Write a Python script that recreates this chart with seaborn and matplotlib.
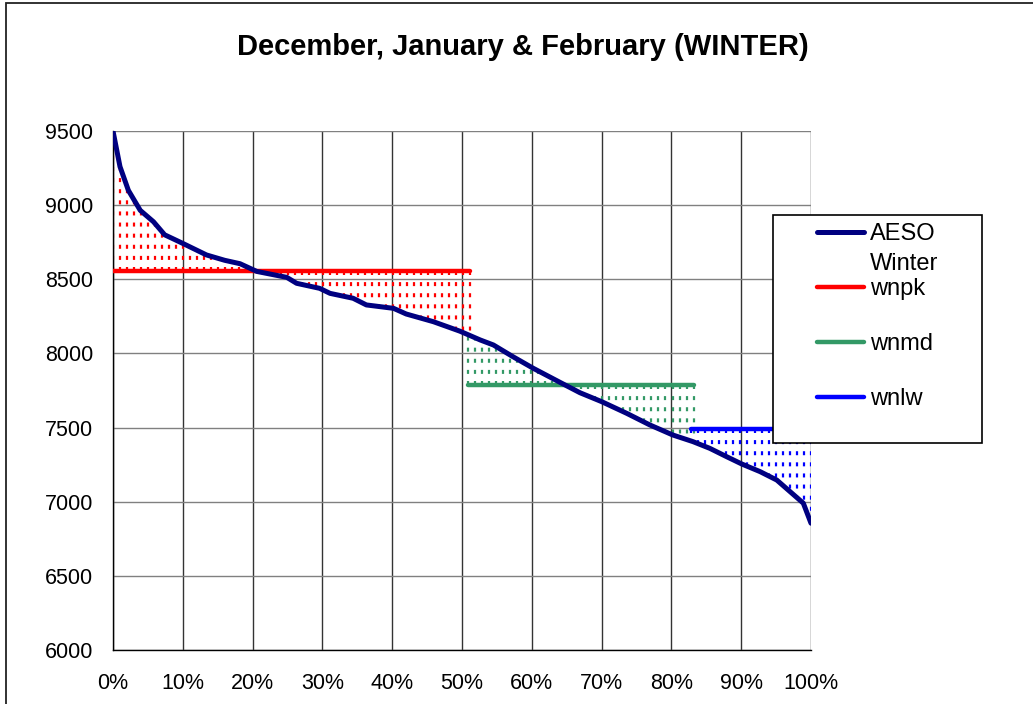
import numpy as np
import pandas as pd
import matplotlib
matplotlib.use('Agg')
import matplotlib.pyplot as plt
import seaborn as sns
from matplotlib.patches import Rectangle

# AESO 冬季負載曲線（依百分比排序）
pct = [0, 1, 2.2, 3.9, 5.8, 7.4, 10, 13.4, 16, 18.2, 20.6, 24.9, 26.3, 29.6, 31.1,
       34.4, 36.3, 40.2, 42, 45.9, 49.7, 52.6, 54.5, 57.3, 60.2, 64, 66.9, 70,
       73.6, 76.9, 80.2, 83.1, 85.5, 87.9, 90.1, 92.7, 95.1, 97, 98.9, 100]
aeso = [9500, 9260, 9100, 8965, 8888, 8800, 8742, 8664, 8628, 8605, 8553, 8513,
        8473, 8439, 8405, 8372, 8327, 8304, 8266, 8214, 8150, 8091, 8057, 7978,
        7900, 7806, 7735, 7675, 7596, 7518, 7450, 7405, 7360, 7304, 7254, 7203,
        7146, 7068, 6990, 6855]

# 三個時段的階梯值
step_names = ['wnpk', 'wnmd', 'wnlw']
step_start = [0, 50.8, 82.8]
step_end = [51.2, 83.2, 100]
step_level = [8555, 7787, 7490]
step_colors = ['#ff0000', '#339966', '#0000ff']

sns.set_style('white')
plt.rcParams['font.family'] = ['Liberation Sans', 'DejaVu Sans']
plt.rcParams['text.color'] = 'black'

W, H = 1033, 704
fig = plt.figure(figsize=(W / 100, H / 100), dpi=100)
ax = fig.add_axes([113 / W, 1 - 650 / H, (811 - 113) / W, (650 - 131) / H])

df = pd.DataFrame({'pct': pct, 'mw': aeso})

# 點狀陰影：階梯值與曲線之間
for s0, s1, lvl, c in zip(step_start, step_end, step_level, step_colors):
    xs = np.linspace(s0, s1, int(round(s1 - s0)) + 1)
    ys = np.interp(xs, pct, aeso)
    ax.vlines(xs, lvl, ys, colors=c, linewidth=1.6,
              linestyles=[(0, (1.8, 3.2))], zorder=2)

sns.lineplot(data=df, x='pct', y='mw', color='#000080', linewidth=3.6,
             ax=ax, label='AESO', zorder=4)
for s0, s1, lvl, c, name in zip(step_start, step_end, step_level, step_colors, step_names):
    sns.lineplot(x=[s0, s1], y=[lvl, lvl], color=c, linewidth=3.2, ax=ax,
                 label=name, zorder=3, solid_capstyle='round')

handles, labels = ax.get_legend_handles_labels()
ax.get_legend().remove()

ax.set_xlim(0, 100)
ax.set_ylim(6000, 9500)
ax.set_xticks(range(0, 101, 10))
ax.set_xticklabels([f'{v}%' for v in range(0, 101, 10)])
ax.set_yticks(range(6000, 9501, 500))
ax.set_xlabel('')
ax.set_ylabel('')
ax.grid(True, axis='x', color='#333333', linewidth=1)
ax.grid(True, axis='y', color='#808080', linewidth=1)
ax.set_axisbelow(True)
for side in ['top', 'right']:
    ax.spines[side].set_visible(False)
for side in ['left', 'bottom']:
    ax.spines[side].set_color('black')
    ax.spines[side].set_linewidth(1)
ax.tick_params(axis='both', direction='out', length=5, width=1, color='black',
               labelsize=15.5, labelcolor='black')
ax.tick_params(axis='x', pad=11.5)
ax.tick_params(axis='y', pad=9.4)

fig.text(523 / W, 1 - 47 / H, 'December, January & February (WINTER)',
         fontsize=21, fontweight='bold', ha='center', va='center', color='black')

# 外框
fig.add_artist(Rectangle((5.5 / W, -0.1), 1.2, 1.1 - 3.5 / H, transform=fig.transFigure,
                         fill=False, edgecolor='#222222', linewidth=1.3))
# 圖例框
fig.add_artist(Rectangle((773 / W, 1 - 443 / H), (982 - 773) / W, (443 - 215) / H,
                         transform=fig.transFigure, facecolor='white',
                         edgecolor='black', linewidth=1.2, zorder=4))
leg = fig.legend(handles, labels, loc='upper left', bbox_to_anchor=(817 / W, 1 - 223 / H),
                 frameon=False, borderpad=0, borderaxespad=0, fontsize=17,
                 handlelength=2.0, handletextpad=0.25, labelspacing=1.40)
leg.set_zorder(5)

fig.canvas.draw()
bb = leg.get_texts()[0].get_window_extent()
fig.text(bb.x0 / W, (bb.y0 - 8) / H, 'Winter', fontsize=17, ha='left', va='top',
         color='black', zorder=6)

fig.savefig('out.png', dpi=100)
